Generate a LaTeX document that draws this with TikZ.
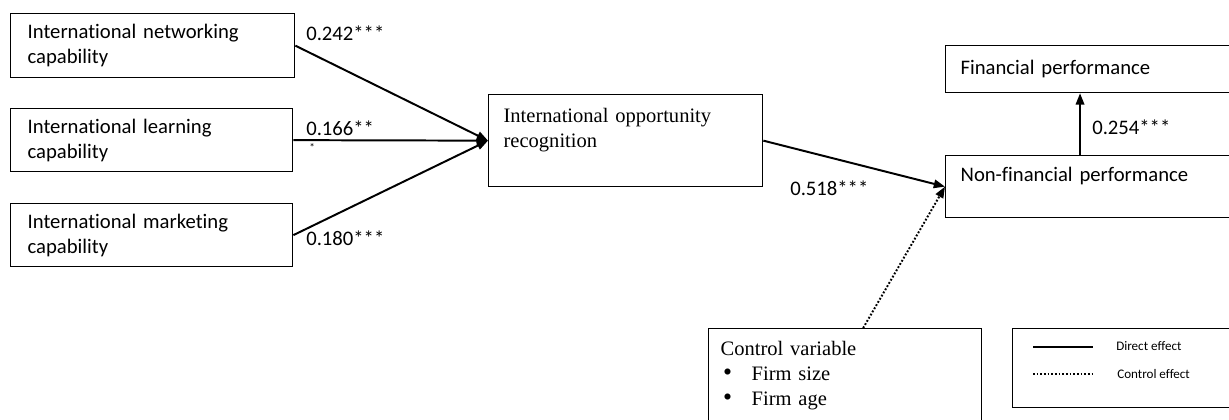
\documentclass[tikz,border=0pt]{standalone}
\usepackage{fontspec}
\setmainfont{Liberation Serif}
\setsansfont{Carlito}[Ligatures=NoCommon]
\usetikzlibrary{positioning,arrows.meta}

\begin{document}
\begin{tikzpicture}[x=0.025cm, y=-0.025cm,
box/.style={draw=black, line width=0.9pt, anchor=north west, align=left, inner ysep=0pt},
capbox/.style={box, font=\sffamily\fontsize{14.7}{17.7}\selectfont},
txtbox/.style={box, font=\fontsize{14.6}{18}\selectfont},
coef/.style={anchor=west, inner sep=0pt, font=\sffamily\fontsize{14.7}{17.7}\selectfont},
legtext/.style={anchor=west, inner sep=0pt, font=\sffamily\fontsize{9.3}{11}\selectfont},
arrow/.style={-{Triangle[length=8pt,width=6pt]}, line width=1.4pt},
controlarrow/.style={arrow, dash pattern=on 1.3pt off 1.3pt}
]
\useasboundingbox (0,0) rectangle (1229,420);
\clip (0,0) rectangle (1229,420);

\node[capbox, text width=6.25cm, inner xsep=0.425cm, minimum height=1.6cm] (net) at (10,13)
{International networking\\capability};
\node[capbox, text width=6.2cm, inner xsep=0.425cm, minimum height=1.575cm] (learn) at (10,108)
{International learning\\capability};
\node[capbox, text width=6.2cm, inner xsep=0.425cm, minimum height=1.575cm] (market) at (10,203)
{International marketing\\capability};

\node[txtbox, text width=6.1cm, inner xsep=0.375cm, minimum height=2.3cm] (ior) at (488,94)
{International opportunity\\recognition\\\mbox{}};

\node[capbox, text width=6.625cm, inner xsep=0.375cm, minimum height=1.175cm] (fin) at (945,45)
{Financial performance};
\node[capbox, text width=6.625cm, inner xsep=0.375cm, minimum height=1.55cm] (nonfin) at (945,155)
{Non-financial performance\\\mbox{}};

\node[txtbox, text width=6.225cm, inner xsep=0.3cm, minimum height=2.35cm] (control) at (708,328)
{Control variable\\\makebox[0.775cm][l]{\hspace{0.06cm}\raisebox{0pt}[0pt][0pt]{\scalebox{1.25}{\textbullet}}}Firm size\\\makebox[0.775cm][l]{\hspace{0.06cm}\raisebox{0pt}[0pt][0pt]{\scalebox{1.25}{\textbullet}}}Firm age};

\node[box, minimum width=5.7cm, minimum height=1.975cm] (legend) at (1012,328) {};
\coordinate (d1) at (1033,347);
\coordinate (d2) at (1093,347);
\coordinate (k1) at (1033,374);
\coordinate (k2) at (1093,374);
\draw[line width=1.4pt] (d1) -- (d2);
\draw[line width=1.4pt, dash pattern=on 1.3pt off 1.3pt] (k1) -- (k2);
\node[legtext] (ldirect) at (1116,346) {Direct effect};
\node[legtext] (lcontrol) at (1117,374) {Control effect};

\draw[arrow] (net.east) -- (ior.west);
\draw[arrow] (learn.east) -- (ior.west);
\draw[arrow] (market.east) -- (ior.west);
\draw[arrow] (ior.east) -- (nonfin.west);
\draw[arrow] ([xshift=3.375cm]nonfin.north west) -- ([xshift=3.375cm]fin.south west);
\draw[controlarrow] ([xshift=0.45cm]control.north) -- (nonfin.west);

\node[coef] (c242) at (306,33) {0.242***};
\node[coef] (c166) at (306,128) {0.166**};
\node[coef, font=\sffamily\fontsize{8}{8}\selectfont] (c166b) at (309,148) {*};
\node[coef] (c180) at (306,238) {0.180***};
\node[coef] (c518) at (790,188) {0.518***};
\node[coef] (c254) at (1092,127) {0.254***};
\end{tikzpicture}
\end{document}
